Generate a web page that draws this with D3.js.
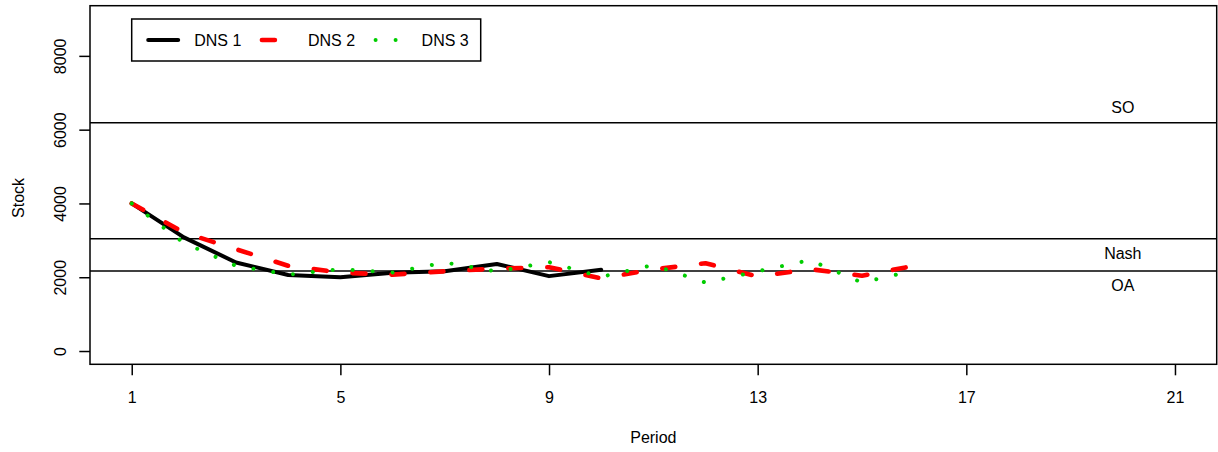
<!DOCTYPE html>
<html>
<head>
<meta charset="utf-8">
<script src="https://cdn.jsdelivr.net/npm/d3@7"></script>
<style>
    body { margin: 0; background: #fff; }
    #chart-area { width: 1218px; height: 452px; }
    text { font-family: "Liberation Sans", Arial, sans-serif; font-size: 16px; fill: #000; }
</style>
</head>
<body>
<div id="chart-area"></div>
<script>
// values
let periods = d3.range(1, 17);
let seriesNames = ["DNS 1", "DNS 2", "DNS 3"];
let dns1 = [4000, 3080, 2400, 2060, 2000, 2120, 2160, 2360, 2030, 2200];
let dns2 = [4000, 3210, 2760, 2310, 2125, 2070, 2160, 2235, 2270, 1970, 2210, 2380, 2020, 2220, 2040, 2310];
let dns3 = [4000, 2930, 2310, 2070, 2220, 2130, 2400, 2155, 2410, 2010, 2330, 1855, 2160, 2465, 1855, 2180];
let refLevels = [6190, 3040, 2170];
let refLabels = ["SO", "Nash", "OA"];
let xTicks = [1, 5, 9, 13, 17, 21];
let yTicks = [0, 2000, 4000, 6000, 8000];
let xLimits = [1, 21];
let yLimits = [0, 9000];

class StockChart {

    constructor(parentElement) {
        this.parentElement = parentElement;
        this.series = [dns1, dns2, dns3].map((vals, i) => ({
            name: seriesNames[i],
            values: vals.map((v, j) => ({period: periods[j], stock: v}))
        }));
        // line styles, R-like: solid black, dashed red, dotted green
        this.styles = [
            {color: "#000000", width: 4, dash: null},
            {color: "#FF0000", width: 4.6, dash: "13,26"},
            {color: "#00CD00", width: 4, dash: "0.01,19.99"}
        ];
        this.initVis();
    }

    initVis() {
        let vis = this;

        vis.margin = {top: 5.7, right: 1.3, bottom: 87.7, left: 90};
        vis.width = 1218 - vis.margin.left - vis.margin.right;
        vis.height = 452 - vis.margin.top - vis.margin.bottom;

        vis.svg = d3.select("#" + vis.parentElement).append("svg")
            .attr("width", 1218)
            .attr("height", 452)
            .append("g")
            .attr("transform", `translate(${vis.margin.left}, ${vis.margin.top})`);

        // R pads the axis range by 4% on each side
        let xPad = (xLimits[1] - xLimits[0]) * 0.04;
        let yPad = (yLimits[1] - yLimits[0]) * 0.04;

        vis.x = d3.scaleLinear()
            .domain([xLimits[0] - xPad, xLimits[1] + xPad])
            .range([0, vis.width]);

        vis.y = d3.scaleLinear()
            .domain([yLimits[0] - yPad, yLimits[1] + yPad])
            .range([vis.height, 0]);

        vis.xAxis = vis.svg.append("g")
            .attr("class", "x-axis axis")
            .attr("transform", `translate(0, ${vis.height})`)
            .call(d3.axisBottom(vis.x).tickValues(xTicks).tickSize(11).tickFormat(d3.format("d")));

        vis.xAxis.select(".domain").remove();
        vis.xAxis.selectAll("line").attr("stroke", "#000").attr("stroke-width", 1.5);
        vis.xAxis.selectAll("text")
            .attr("dy", null)
            .attr("y", 38.4)
            .attr("font-size", 16)
            .attr("font-family", "Liberation Sans, Arial, sans-serif");

        vis.yAxis = vis.svg.append("g")
            .attr("class", "y-axis axis")
            .call(d3.axisLeft(vis.y).tickValues(yTicks).tickSize(10.7).tickFormat(d3.format("d")));

        vis.yAxis.select(".domain").remove();
        vis.yAxis.selectAll("line").attr("stroke", "#000").attr("stroke-width", 1.5);
        vis.yAxis.selectAll("text")
            .attr("x", null)
            .attr("dy", null)
            .attr("text-anchor", "middle")
            .attr("transform", "translate(-24, 0) rotate(-90)")
            .attr("font-size", 16)
            .attr("font-family", "Liberation Sans, Arial, sans-serif");

        // axis titles
        vis.svg.append("text")
            .attr("x", vis.width / 2)
            .attr("y", vis.height + 78.7)
            .attr("text-anchor", "middle")
            .text("Period");

        vis.svg.append("text")
            .attr("transform", `translate(${24 - vis.margin.left}, ${vis.y(4150)}) rotate(-90)`)
            .attr("text-anchor", "middle")
            .text("Stock");

        vis.updateVis();
    }

    updateVis() {
        let vis = this;

        // reference levels
        vis.svg.selectAll(".ref-line")
            .data(refLevels)
            .enter()
            .append("line")
            .attr("class", "ref-line")
            .attr("x1", 0)
            .attr("x2", vis.width)
            .attr("y1", d => vis.y(d))
            .attr("y2", d => vis.y(d))
            .attr("stroke", "#000")
            .attr("stroke-width", 1.5);

        // SO label sits above its line, the others below
        vis.svg.selectAll(".ref-label")
            .data(refLevels)
            .enter()
            .append("text")
            .attr("class", "ref-label")
            .attr("x", vis.x(20))
            .attr("y", (d, i) => i == 0 ? vis.y(d) - 10 : vis.y(d) + 20.5)
            .attr("text-anchor", "middle")
            .text((d, i) => refLabels[i]);

        let line = d3.line()
            .x(d => vis.x(d.period))
            .y(d => vis.y(d.stock));

        vis.svg.selectAll(".series")
            .data(vis.series)
            .enter()
            .append("path")
            .attr("class", "series")
            .attr("d", d => line(d.values))
            .attr("fill", "none")
            .attr("stroke", (d, i) => vis.styles[i].color)
            .attr("stroke-width", (d, i) => vis.styles[i].width)
            .attr("stroke-dasharray", (d, i) => vis.styles[i].dash)
            .attr("stroke-linecap", "round")
            .attr("stroke-linejoin", "round");

        // plot box
        vis.svg.append("rect")
            .attr("width", vis.width)
            .attr("height", vis.height)
            .attr("fill", "none")
            .attr("stroke", "#000")
            .attr("stroke-width", 1.5);

        // legend
        let legend = vis.svg.append("g")
            .attr("class", "legend")
            .attr("transform", `translate(${131.7 - vis.margin.left}, ${19 - vis.margin.top})`);

        legend.append("rect")
            .attr("width", 349)
            .attr("height", 42)
            .attr("fill", "#fff")
            .attr("stroke", "#000")
            .attr("stroke-width", 1.5);

        let items = legend.selectAll(".legend-item")
            .data(vis.series)
            .enter()
            .append("g")
            .attr("class", "legend-item")
            .attr("transform", (d, i) => `translate(${16.5 + i * 113.7}, 21)`);

        items.append("line")
            .attr("x1", 0)
            .attr("x2", 30)
            .attr("stroke", (d, i) => vis.styles[i].color)
            .attr("stroke-width", (d, i) => vis.styles[i].width)
            .attr("stroke-dasharray", (d, i) => vis.styles[i].dash)
            .attr("stroke-linecap", "round");

        items.append("text")
            .attr("x", 46)
            .attr("y", 5.8)
            .text(d => d.name);
    }
}

new StockChart("chart-area");
</script>
</body>
</html>
